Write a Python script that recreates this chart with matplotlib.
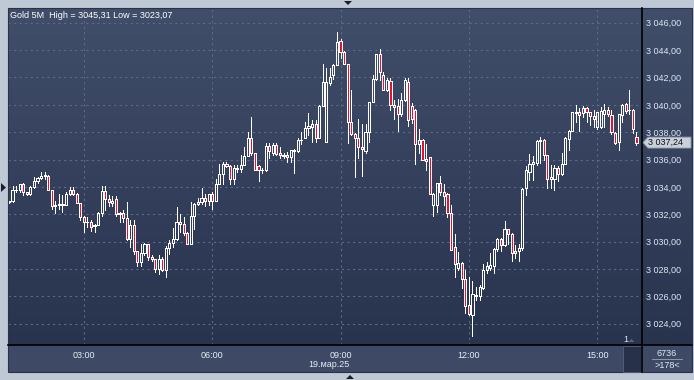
import numpy as np
import pandas as pd
import matplotlib
matplotlib.use("Agg")
import matplotlib.pyplot as plt
from matplotlib.colors import LinearSegmentedColormap
from matplotlib.patches import Rectangle, Polygon
from matplotlib.lines import Line2D

plt.rcParams['font.family'] = ['Liberation Sans', 'DejaVu Sans']

# --- data ---
title = "Gold 5M  High = 3045,31 Low = 3023,07"
date_label = "19.мар.25"
start_time = "2025-03-19 01:15"
tick_labels = ["03:00", "06:00", "09:00", "12:00", "15:00"]
price_levels = [3024, 3026, 3028, 3030, 3032, 3034, 3036, 3038, 3040, 3042, 3044, 3046]
last_price = 3037.24
bars_total = "6736"
bars_shown = ">178<"

opens = [3032.9, 3032.95, 3033.8, 3033.75, 3034.2, 3033.6, 3033.5, 3034.0, 3034.4, 3034.65,
         3034.8, 3034.8, 3033.8, 3032.6, 3032.7, 3032.7, 3032.7, 3033.5, 3033.75, 3033.5,
         3032.8, 3031.8, 3031.4, 3031.4, 3031.15, 3031.2, 3032.1, 3033.7, 3033.1, 3033.0,
         3033.1, 3032.0, 3032.1, 3031.7, 3030.2, 3031.2, 3029.3, 3028.5, 3029.2, 3029.8,
         3028.85, 3028.7, 3028.0, 3028.7, 3027.95, 3029.5, 3029.9, 3030.2, 3031.45, 3031.3,
         3030.65, 3029.85, 3031.85, 3032.75, 3032.9, 3033.2, 3033.0, 3033.45, 3033.0, 3034.2,
         3034.95, 3035.65, 3035.5, 3034.6, 3035.4, 3035.3, 3035.6, 3036.25, 3037.6, 3036.45,
         3035.5, 3035.2, 3035.2, 3037.0, 3036.5, 3037.05, 3036.45, 3036.3, 3036.35, 3036.15,
         3036.7, 3036.6, 3037.4, 3037.6, 3038.3, 3038.4, 3038.6, 3037.6, 3039.9, 3037.3,
         3041.6, 3042.2, 3042.9, 3044.65, 3043.85, 3042.95, 3038.75, 3037.9, 3037.6, 3036.95,
         3036.6, 3038.0, 3040.2, 3041.9, 3043.75, 3042.2, 3041.1, 3041.75, 3040.0, 3039.9,
         3039.3, 3040.35, 3041.7, 3039.9, 3039.65, 3037.15, 3037.45, 3036.05, 3036.15, 3032.7,
         3032.7, 3034.3, 3033.6, 3033.5, 3032.1, 3029.6, 3028.1, 3028.45, 3027.3, 3025.4,
         3024.6, 3026.0, 3026.0, 3026.6, 3027.9, 3028.1, 3028.2, 3029.45, 3030.2, 3029.75,
         3030.9, 3030.55, 3029.35, 3029.35, 3029.5, 3033.9, 3035.1, 3035.7, 3035.75, 3037.35,
         3037.45, 3036.3, 3034.55, 3034.6, 3035.4, 3034.95, 3035.7, 3037.5, 3038.1, 3039.4,
         3039.45, 3039.4, 3039.8, 3039.45, 3039.2, 3038.35, 3038.35, 3039.35, 3039.6, 3039.25,
         3037.95, 3037.3, 3039.25, 3040.05, 3039.6, 3039.65, 3037.65]
highs = [3033.0, 3034.1, 3034.1, 3034.2, 3034.25, 3033.65, 3034.05, 3034.7, 3034.75, 3035.1,
         3035.1, 3034.85, 3033.8, 3033.0, 3033.5, 3033.4, 3033.6, 3034.0, 3034.0, 3033.55,
         3032.85, 3031.85, 3031.8, 3031.6, 3031.3, 3032.15, 3034.1, 3034.1, 3033.4, 3033.3,
         3033.3, 3032.2, 3032.3, 3032.9, 3031.6, 3031.6, 3029.35, 3029.8, 3029.9, 3029.85,
         3029.0, 3028.75, 3029.0, 3028.85, 3029.65, 3030.1, 3031.0, 3032.55, 3032.0, 3031.8,
         3030.7, 3032.9, 3032.8, 3033.2, 3033.9, 3033.5, 3033.5, 3033.65, 3034.55, 3035.65,
         3035.85, 3035.85, 3035.6, 3035.6, 3035.6, 3036.3, 3036.9, 3038.0, 3039.1, 3036.5,
         3035.6, 3035.35, 3037.2, 3037.2, 3037.2, 3037.2, 3036.9, 3036.5, 3036.55, 3036.7,
         3036.75, 3037.6, 3038.0, 3038.75, 3039.4, 3038.9, 3038.9, 3040.0, 3043.0, 3042.7,
         3042.7, 3042.95, 3045.31, 3044.8, 3043.9, 3043.0, 3041.1, 3037.95, 3039.0, 3038.6,
         3038.6, 3040.2, 3042.2, 3043.75, 3044.1, 3042.4, 3041.95, 3041.95, 3040.35, 3040.4,
         3040.9, 3041.95, 3041.95, 3040.15, 3039.7, 3038.2, 3037.5, 3037.1, 3036.2, 3033.55,
         3034.25, 3034.8, 3034.2, 3033.55, 3032.7, 3030.55, 3029.25, 3028.5, 3027.9, 3027.4,
         3027.1, 3026.7, 3026.85, 3028.35, 3028.5, 3029.15, 3029.5, 3030.25, 3030.25, 3031.5,
         3030.95, 3030.6, 3029.75, 3029.8, 3033.9, 3035.5, 3036.4, 3036.25, 3037.4, 3037.65,
         3037.5, 3036.35, 3035.6, 3035.6, 3035.5, 3036.45, 3037.65, 3038.15, 3039.5, 3039.98,
         3039.75, 3039.9, 3039.85, 3039.5, 3039.6, 3039.45, 3039.85, 3040.05, 3039.85, 3039.65,
         3038.0, 3039.35, 3040.05, 3040.1, 3041.1, 3039.7, 3038.0]
lows = [3032.8, 3032.9, 3033.6, 3033.6, 3033.4, 3033.4, 3033.4, 3033.95, 3034.3, 3034.6,
        3034.6, 3033.75, 3032.4, 3032.1, 3032.4, 3032.2, 3032.7, 3033.4, 3033.4, 3032.8,
        3031.6, 3030.7, 3031.1, 3030.8, 3030.7, 3031.2, 3031.9, 3032.3, 3032.6, 3032.6,
        3031.9, 3031.4, 3031.4, 3030.1, 3029.6, 3029.1, 3028.2, 3028.2, 3029.0, 3028.65,
        3028.6, 3027.75, 3027.6, 3027.85, 3027.45, 3029.1, 3029.6, 3030.1, 3030.7, 3030.5,
        3029.85, 3029.8, 3030.9, 3032.7, 3032.75, 3032.6, 3032.7, 3032.4, 3033.0, 3034.2,
        3034.2, 3035.45, 3034.2, 3034.2, 3035.1, 3035.1, 3035.6, 3036.25, 3036.35, 3035.25,
        3034.4, 3035.0, 3035.15, 3036.1, 3036.3, 3036.3, 3036.1, 3036.1, 3035.8, 3035.85,
        3035.0, 3036.55, 3037.1, 3037.6, 3037.8, 3037.3, 3037.3, 3037.55, 3039.9, 3037.25,
        3041.45, 3041.9, 3042.9, 3043.4, 3042.95, 3037.2, 3037.8, 3034.75, 3036.1, 3034.8,
        3036.45, 3037.25, 3040.2, 3041.85, 3041.8, 3041.1, 3041.0, 3039.6, 3039.0, 3038.1,
        3039.2, 3040.3, 3038.45, 3038.7, 3035.7, 3036.5, 3035.95, 3035.2, 3033.5, 3031.9,
        3032.2, 3033.4, 3032.7, 3031.8, 3029.4, 3027.45, 3027.9, 3026.6, 3024.8, 3024.6,
        3023.07, 3025.7, 3025.7, 3026.55, 3027.7, 3027.9, 3027.7, 3029.35, 3029.35, 3029.7,
        3029.8, 3028.55, 3028.8, 3028.55, 3029.4, 3033.4, 3034.5, 3034.5, 3035.6, 3035.75,
        3035.95, 3033.9, 3033.9, 3033.75, 3034.4, 3034.85, 3035.7, 3036.7, 3038.05, 3038.75,
        3038.1, 3039.1, 3038.75, 3038.5, 3038.4, 3038.2, 3038.3, 3038.35, 3039.2, 3037.9,
        3037.1, 3036.7, 3038.75, 3039.4, 3039.35, 3037.95, 3037.05]
closes = [3032.95, 3033.8, 3033.75, 3034.2, 3033.6, 3033.5, 3034.0, 3034.4, 3034.65, 3034.8,
          3034.82, 3033.8, 3032.6, 3032.7, 3032.72, 3032.75, 3033.5, 3033.75, 3033.5, 3032.8,
          3031.8, 3031.4, 3031.45, 3031.1, 3031.2, 3032.1, 3033.7, 3033.1, 3032.9, 3032.85,
          3032.0, 3032.1, 3031.7, 3030.2, 3031.2, 3029.3, 3028.5, 3029.2, 3029.8, 3028.85,
          3028.7, 3028.0, 3028.7, 3027.95, 3029.5, 3029.9, 3030.2, 3031.45, 3031.3, 3030.65,
          3029.85, 3031.85, 3032.75, 3032.9, 3033.2, 3033.0, 3033.45, 3033.0, 3034.2, 3034.95,
          3035.65, 3035.55, 3034.6, 3035.4, 3035.3, 3035.6, 3036.25, 3037.6, 3036.45, 3035.25,
          3035.25, 3035.25, 3037.0, 3036.6, 3037.05, 3036.4, 3036.3, 3036.25, 3036.2, 3036.7,
          3036.6, 3037.4, 3037.45, 3038.3, 3038.45, 3038.6, 3037.6, 3039.95, 3041.65, 3041.65,
          3042.05, 3042.9, 3044.6, 3043.85, 3042.95, 3038.75, 3037.9, 3037.6, 3036.95, 3036.8,
          3038.0, 3040.2, 3041.9, 3043.75, 3042.4, 3041.1, 3041.8, 3040.0, 3039.85, 3039.35,
          3040.35, 3041.8, 3038.9, 3038.95, 3037.15, 3037.45, 3035.95, 3035.9, 3033.5, 3033.5,
          3034.25, 3033.65, 3033.3, 3032.1, 3029.4, 3028.35, 3028.45, 3027.3, 3025.3, 3024.7,
          3026.2, 3026.1, 3026.7, 3027.9, 3028.2, 3028.3, 3029.45, 3030.2, 3029.75, 3030.9,
          3030.55, 3029.15, 3029.15, 3029.5, 3033.85, 3035.2, 3035.7, 3035.85, 3037.35, 3037.45,
          3036.3, 3034.55, 3034.75, 3035.4, 3034.95, 3035.7, 3037.55, 3038.1, 3039.45, 3039.5,
          3039.25, 3039.8, 3039.45, 3039.2, 3038.95, 3039.45, 3039.55, 3039.6, 3039.3, 3038.0,
          3037.2, 3039.35, 3039.98, 3039.55, 3039.62, 3038.2, 3037.24]

# --- layout in pixels ---
W, H = 694, 380
L, T, R, B = 8, 8, 642, 345
RR, BB = 692, 372
pitch = 3.565  # px per candle


def box(x0, y0, x1, y1):
    return [x0 / W, 1 - y1 / H, (x1 - x0) / W, (y1 - y0) / H]


def P(x, y):
    return (x / W, 1 - y / H)


fig = plt.figure(figsize=(W / 100, H / 100), dpi=100)
fig.patch.set_facecolor('#bfc9d5')

grad = LinearSegmentedColormap.from_list('bg', ['#414e6a', '#28334e'])
vgrad = np.linspace(0, 1, 256).reshape(-1, 1)

ax = fig.add_axes(box(L, T, R, B))
ax.imshow(vgrad, cmap=grad, aspect='auto', extent=[0, 1, 0, 1],
          transform=ax.transAxes, zorder=0)

n = len(closes)
times = pd.date_range(start_time, periods=n, freq='5min')
idx = np.arange(n)
o = np.array(opens)
c = np.array(closes)
hi = np.array(highs)
lo = np.array(lows)
up = c >= o
top = np.maximum(o, c)
bot = np.minimum(o, c)

# wicks (upper and lower part, so hollow bodies stay empty)
ax.vlines(idx, top, hi, color='white', lw=0.5, zorder=2, antialiased=False)
ax.vlines(idx, lo, bot, color='white', lw=0.5, zorder=2, antialiased=False)
body_h = np.maximum(top - bot, 0.05)
ax.bar(idx[up], body_h[up], bottom=bot[up], width=0.6, facecolor='none',
       edgecolor='white', linewidth=0.5, zorder=3, antialiased=False)
ax.bar(idx[~up], body_h[~up], bottom=bot[~up], width=0.6, facecolor='#e8102f',
       edgecolor='white', linewidth=0.5, zorder=3, antialiased=False)

x0 = -(9.0 - L) / pitch
ax.set_xlim(x0, x0 + (R - L) / pitch)
# price scale: 3024 at y=323.7, 13.68 px per unit
ax.set_ylim(3024 + (323.7 - B) / 13.68, 3024 + (323.7 - T) / 13.68)

labels_t = [t.strftime('%H:%M') for t in times]
tick_pos = [labels_t.index(s) for s in tick_labels]
ax.set_xticks(tick_pos)
ax.set_xticklabels(tick_labels)
ax.set_yticks(price_levels)
ax.set_yticklabels([f"{v:,.2f}".replace(',', ' ').replace('.', ',') for v in price_levels])
ax.yaxis.tick_right()
ax.tick_params(axis='y', length=0, pad=3, labelsize=6.5, labelcolor='#dde7f5')
ax.tick_params(axis='x', length=0, pad=4.5, labelsize=6.5, labelcolor='#e6edf7')
ax.grid(True, color='#5d6a88', ls=(0, (2, 3)), lw=0.8, zorder=1)
for s in ax.spines.values():
    s.set_visible(False)

ax.annotate(date_label, xy=(tick_pos[2], 0), xycoords=('data', 'axes fraction'),
            xytext=(6.5, -14), textcoords='offset points', ha='right', va='center',
            fontsize=6.5, color='#e6edf7')

# right price panel and bottom time panel
axr = fig.add_axes(box(R, T, RR, B), zorder=-1)
axr.imshow(vgrad, cmap=grad, aspect='auto', extent=[0, 1, 0, 1])
axr.set_axis_off()
axb = fig.add_axes(box(L, B, R, BB), zorder=-1)
axb.set_facecolor('#3e4a65')
axb.set_xticks([]); axb.set_yticks([])
for s in axb.spines.values():
    s.set_visible(False)
axc = fig.add_axes(box(R, B, RR, BB), zorder=-1)
axc.set_facecolor('#3e4a65')
axc.set_xticks([]); axc.set_yticks([])
for s in axc.spines.values():
    s.set_visible(False)

# frame lines
fig.add_artist(Line2D([P(R, T)[0], P(R, BB)[0]], [P(R, T)[1], P(R, BB)[1]], color='black', lw=1.2))
fig.add_artist(Line2D([P(L, B)[0], P(RR, B)[0]], [P(L, B)[1], P(RR, B)[1]], color='black', lw=1.2))
fig.add_artist(Rectangle(P(L - 0.5, BB), (RR - L + 0.5) / W, (BB - T + 0.5) / H,
                         transform=fig.transFigure, fill=False, edgecolor='#2a3244', lw=0.8))

# title
fig.text(*P(10, 15), title, color='white', fontsize=6.5, va='center', ha='left')

# bottom-right counters
fig.text(*P(667, 353), bars_total, color='#dde7f5', fontsize=6.5, ha='center', va='center')
fig.add_artist(Line2D([P(652, 0)[0], P(682, 0)[0]], [P(0, 359)[1]] * 2, color='#9aa6bc', lw=0.6))
fig.text(*P(667, 365), bars_shown, color='#dde7f5', fontsize=6.5, ha='center', va='center')

# scroll box and "1" marker
fig.add_artist(Rectangle(P(623, BB), 18 / W, (BB - B - 1) / H, transform=fig.transFigure,
                         facecolor='#27324a', edgecolor='#55617a', lw=0.6))
fig.text(*P(626, 340), "1", color='#dde7f5', fontsize=6.5, ha='center', va='center')
fig.add_artist(Polygon([P(628.5, 342), P(634.5, 342), P(631.5, 339)], closed=True,
                       transform=fig.transFigure, facecolor='#5a6680', edgecolor='none'))

# last price tag
ty = 323.7 - (last_price - 3024) * 13.68
fig.add_artist(Polygon([P(643, ty), P(648, ty - 5.5), P(691, ty - 5.5), P(691, ty + 5.5), P(648, ty + 5.5)],
                       closed=True, transform=fig.transFigure, facecolor='#c9d0da',
                       edgecolor='#8792a6', lw=0.6, zorder=5))
fig.text(*P(648, ty), f"{last_price:,.2f}".replace(',', ' ').replace('.', ','),
         color='#111111', fontsize=6.5, ha='left', va='center', zorder=6)

# small navigation arrows on the frame
fig.add_artist(Polygon([P(344, 1), P(352, 1), P(348, 5)], closed=True,
                       transform=fig.transFigure, facecolor='#1a1f2a', edgecolor='none'))
fig.add_artist(Polygon([P(346, 379), P(354, 379), P(350, 375)], closed=True,
                       transform=fig.transFigure, facecolor='#1a1f2a', edgecolor='none'))
fig.add_artist(Polygon([P(1, 183), P(1, 192), P(6, 187.5)], closed=True,
                       transform=fig.transFigure, facecolor='#1a1f2a', edgecolor='none'))

fig.savefig('out.png', dpi=100, facecolor=fig.get_facecolor())
